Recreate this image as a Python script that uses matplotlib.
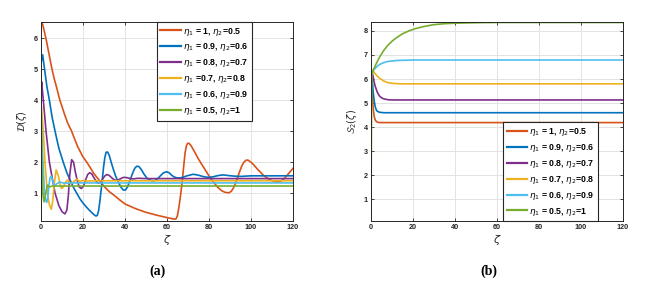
import matplotlib
matplotlib.use('Agg')
import matplotlib.pyplot as plt

# colours in MATLAB default order
colors = ['#D95319', '#0072BD', '#7E2F8E', '#EDB120', '#4DBEEE', '#77AC30']
labels = [r'$\eta_1$ = 1, $\eta_2$=0.5',
          r'$\eta_1$ = 0.9, $\eta_2$=0.6',
          r'$\eta_1$ = 0.8, $\eta_2$=0.7',
          r'$\eta_1$ =0.7, $\eta_2$=0.8',
          r'$\eta_1$ = 0.6, $\eta_2$=0.9',
          r'$\eta_1$ = 0.5, $\eta_2$=1']
labels_b = [r'$\eta_1$ = 1, $\eta_2$=0.5',
            r'$\eta_1$ = 0.9, $\eta_2$=0.6',
            r'$\eta_1$ = 0.8, $\eta_2$=0.7',
            r'$\eta_1$ = 0.7, $\eta_2$=0.8',
            r'$\eta_1$ = 0.6, $\eta_2$=0.9',
            r'$\eta_1$ = 0.5, $\eta_2$=1']

# ---- panel (a): D(zeta) ----
z_a1 = [0, 0.5, 1.5, 2.5, 3.8, 5, 6.2, 7.5, 9, 10, 11.2, 12.5, 13.5, 14.6, 16, 17.5, 19, 20,
        21.8, 23.5, 25, 26.5, 28, 30, 32.5, 35, 37.5, 40, 45, 50, 55, 60, 62, 63.5, 64.3,
        65, 65.8, 66.5, 67.2, 68, 68.6, 69.2, 69.8, 70.5, 71.5, 73, 75, 77, 78.5, 80.5, 82.5,
        84, 86, 87.5, 89.3, 90.5, 91.5, 92.5, 93.5, 94.5, 95.5, 96.5, 97.5, 98.5, 100, 101.5,
        103, 106, 109, 111, 112.5, 114, 115.5, 117.5, 120]
d_a1 = [6.45, 6.53, 6.25, 5.95, 5.5, 5.08, 4.72, 4.4, 4.0, 3.8, 3.55, 3.3, 3.15, 3.0, 2.75,
        2.5, 2.3, 2.17, 2.0, 1.82, 1.65, 1.52, 1.4, 1.22, 1.05, 0.92, 0.78, 0.65, 0.5, 0.38,
        0.29, 0.21, 0.18, 0.16, 0.17, 0.28, 0.6, 0.95, 1.35, 1.9, 2.3, 2.52, 2.61, 2.61, 2.53,
        2.35, 2.1, 1.88, 1.72, 1.5, 1.33, 1.2, 1.08, 1.03, 1.01, 1.05, 1.15, 1.3, 1.48, 1.68,
        1.86, 1.99, 2.06, 2.07, 2.0, 1.9, 1.78, 1.57, 1.43, 1.38, 1.36, 1.38, 1.45, 1.6, 1.8]

z_a2 = [0, 0.8, 1.7, 2.8, 4.0, 5.3, 6.7, 8.5, 10.6, 12.2, 14, 15.5, 17, 18.5, 20, 21.5, 23,
        24.2, 25.3, 26.2, 26.8, 27.4, 28, 28.6, 29.2, 29.8, 30.4, 31, 31.7, 32.5, 33.5, 34.5,
        35.5, 36.8, 38, 39.2, 40.2, 41.2, 42.3, 43.5, 44.6, 45.6, 46.6, 47.8, 49, 50.3, 51.6,
        53, 54.3, 55.6, 57, 58.4, 59.8, 61, 62.2, 63.5, 65, 67, 69.5, 72.5, 75, 77.5, 79.7,
        82, 84.5, 86.8, 89, 92, 95, 100, 110, 120]
d_a2 = [5.2, 5.47, 5.0, 4.45, 4.0, 3.45, 3.0, 2.45, 2.0, 1.68, 1.4, 1.18, 1.0, 0.82, 0.68,
        0.56, 0.45, 0.37, 0.3, 0.26, 0.28, 0.42, 0.72, 1.08, 1.45, 1.85, 2.15, 2.32, 2.33,
        2.22, 1.98, 1.76, 1.56, 1.36, 1.2, 1.1, 1.1, 1.2, 1.4, 1.62, 1.8, 1.87, 1.86, 1.76,
        1.62, 1.5, 1.43, 1.4, 1.41, 1.47, 1.57, 1.66, 1.69, 1.66, 1.58, 1.52, 1.49, 1.5, 1.56,
        1.61, 1.58, 1.53, 1.51, 1.53, 1.57, 1.59, 1.57, 1.55, 1.54, 1.56, 1.56, 1.56]

z_a3 = [0, 0.3, 1.1, 2.4, 4.0, 5.3, 6.7, 8.5, 10, 11.4, 12.3, 13.0, 13.7, 14.6, 15.5, 16.3,
        17.2, 18.2, 19.2, 20.2, 21.2, 22.2, 23.2, 24.2, 25.2, 26.3, 27.3, 28.3, 29.3, 30.3,
        31.3, 32.3, 33.3, 34.3, 35.2, 36.3, 37.5, 38.5, 39.5, 41, 42.5, 44, 46, 50, 60, 120]
d_a3 = [4.3, 4.6, 4.0, 3.0, 2.0, 1.5, 1.0, 0.6, 0.4, 0.33, 0.45, 0.9, 1.6, 2.08, 2.0, 1.7,
        1.42, 1.2, 1.15, 1.22, 1.42, 1.6, 1.66, 1.62, 1.5, 1.38, 1.32, 1.35, 1.45, 1.55, 1.6,
        1.58, 1.52, 1.46, 1.42, 1.42, 1.45, 1.49, 1.51, 1.5, 1.47, 1.46, 1.48, 1.47, 1.47, 1.47]

z_a4 = [0, 0.2, 1.1, 1.9, 3.0, 4.0, 4.9, 5.6, 6.3, 7.2, 8.3, 9.0, 9.8, 10.6, 11.5, 12.5,
        13.3, 14.1, 15.2, 16.9, 18.5, 20, 22, 25, 30, 120]
d_a4 = [3.6, 3.8, 3.0, 2.0, 1.0, 0.62, 0.48, 0.75, 1.3, 1.75, 1.55, 1.3, 1.15, 1.2, 1.33,
        1.42, 1.38, 1.3, 1.35, 1.45, 1.38, 1.41, 1.39, 1.4, 1.4, 1.4]

z_a5 = [0, 0.1, 0.8, 1.6, 2.2, 2.7, 3.2, 3.7, 4.3, 4.9, 5.5, 6.3, 7.5, 9, 11, 14, 20, 120]
d_a5 = [3.2, 3.5, 2.2, 1.1, 0.78, 0.7, 0.85, 1.2, 1.5, 1.55, 1.42, 1.25, 1.3, 1.36, 1.32,
        1.33, 1.33, 1.33]

z_a6 = [0, 0.05, 0.15, 0.6, 1.0, 1.4, 2.0, 3.0, 4.0, 5.5, 8, 120]
d_a6 = [0.1, 3.65, 3.4, 1.6, 0.9, 0.72, 0.9, 1.26, 1.2, 1.23, 1.23, 1.23]

# ---- panel (b): S2(zeta) ----
z_b1 = [0, 0.3, 0.6, 1.0, 1.5, 2.0, 2.5, 3.0, 4.0, 6, 120]
s_b1 = [6.4, 6.0, 5.4, 4.8, 4.45, 4.3, 4.24, 4.21, 4.19, 4.19, 4.19]
z_b2 = [0, 0.5, 1.0, 1.5, 2.0, 2.5, 3.0, 4.0, 6.0, 120]
s_b2 = [6.4, 6.1, 5.5, 5.1, 4.85, 4.72, 4.66, 4.62, 4.6, 4.6]
z_b3 = [0, 0.5, 1.0, 1.5, 2.0, 3.0, 4.0, 5.0, 6.0, 8.0, 10, 120]
s_b3 = [6.4, 6.3, 6.1, 5.88, 5.7, 5.45, 5.3, 5.22, 5.18, 5.14, 5.13, 5.13]
z_b4 = [0, 1, 2, 3, 4, 6, 8, 10, 14, 120]
s_b4 = [6.4, 6.33, 6.22, 6.12, 6.04, 5.92, 5.85, 5.82, 5.8, 5.8]
z_b5 = [0, 0.5, 1, 2, 4, 6, 8, 12, 20, 120]
s_b5 = [6.3, 6.3, 6.35, 6.45, 6.6, 6.68, 6.73, 6.77, 6.79, 6.79]
z_b6 = [0, 0.15, 0.3, 0.5, 1, 2, 4, 6, 8, 10, 12, 15, 18, 21, 25, 30, 35, 40, 50, 60, 120]
s_b6 = [0.1, 3.0, 5.5, 6.2, 6.35, 6.55, 6.9, 7.18, 7.4, 7.57, 7.71, 7.88, 8.0, 8.09, 8.18,
        8.26, 8.3, 8.32, 8.34, 8.35, 8.35]

plt.rcParams['font.family'] = ['Liberation Sans', 'DejaVu Sans']
plt.rcParams['mathtext.fontset'] = 'dejavusans'

fig = plt.figure(figsize=(6.57, 2.83), dpi=100)
ax1 = fig.add_axes([41 / 657, 1 - 221 / 283, 252 / 657, 199 / 283])
ax2 = fig.add_axes([371 / 657, 1 - 221 / 283, 252 / 657, 199 / 283])

data_a = [(z_a1, d_a1), (z_a2, d_a2), (z_a3, d_a3), (z_a4, d_a4), (z_a5, d_a5), (z_a6, d_a6)]
data_b = [(z_b1, s_b1), (z_b2, s_b2), (z_b3, s_b3), (z_b4, s_b4), (z_b5, s_b5), (z_b6, s_b6)]

for (z, d), c, lab in zip(data_a, colors, labels):
    ax1.plot(z, d, color=c, lw=1.2, label=lab, solid_joinstyle='round')
for (z, s), c, lab in zip(data_b, colors, labels_b):
    ax2.plot(z, s, color=c, lw=1.2, label=lab, solid_joinstyle='round')

ax1.set_ylim(0.1, 6.53)
ax1.set_yticks([1, 2, 3, 4, 5, 6])
ax2.set_ylim(0.1, 8.37)
ax2.set_yticks([1, 2, 3, 4, 5, 6, 7, 8])

for ax in (ax1, ax2):
    ax.set_xlim(0, 120)
    ax.set_xticks(range(0, 121, 20))
    ax.grid(True, color='#e3e3e3', lw=0.7)
    ax.set_axisbelow(True)
    ax.tick_params(direction='in', length=2.5, width=0.6, labelsize=5.2,
                   top=True, right=True, pad=2.5, colors='#262626')
    for lbl in ax.get_xticklabels() + ax.get_yticklabels():
        lbl.set_fontweight('bold')
    for sp in ax.spines.values():
        sp.set_color('#262626')
        sp.set_linewidth(0.7)
    ax.set_xlabel(r'$\zeta$', fontsize=8, labelpad=1, color='#262626')

ax1.set_ylabel(r'$\mathcal{D}(\zeta)$', fontsize=7, labelpad=3, color='#262626')
ax2.set_ylabel(r'$\mathcal{S}_2(\zeta)$', fontsize=7, labelpad=3, color='#262626')

leg_kw = dict(fontsize=6.3, handlelength=2.3, handletextpad=0.25, labelspacing=0.45,
              borderaxespad=0, fancybox=False, framealpha=1, borderpad=0.4)
leg1 = ax1.legend(loc='upper right', bbox_to_anchor=(0.836, 1.0), **leg_kw)
leg2 = ax2.legend(loc='lower right', bbox_to_anchor=(0.9, 0.0), **leg_kw)
for leg in (leg1, leg2):
    leg.get_frame().set_edgecolor('#262626')
    leg.get_frame().set_linewidth(0.8)
    for t in leg.get_texts():
        t.set_fontweight('bold')
    for h in leg.get_lines():
        h.set_linewidth(1.6)

fig.text(157 / 657, 1 - 271 / 283, '(a)', ha='center', va='center', fontsize=10,
         fontweight='bold', family='Liberation Serif')
fig.text(489 / 657, 1 - 271 / 283, '(b)', ha='center', va='center', fontsize=10,
         fontweight='bold', family='Liberation Serif')

fig.savefig('out.png', dpi=100)
